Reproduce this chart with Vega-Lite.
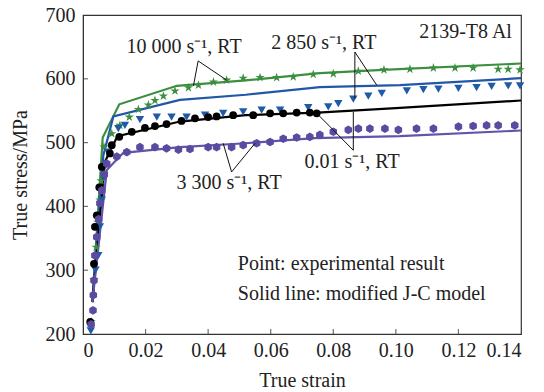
{
  "$schema": "https://vega.github.io/schema/vega-lite/v6.json",
  "width": 438,
  "height": 319,
  "autosize": {"type": "none"},
  "padding": {"left": 83, "top": 15, "right": 23, "bottom": 58},
  "config": {
    "font": "Liberation Serif",
    "view": {"stroke": "#333", "strokeWidth": 1.2},
    "axis": {
      "labelFont": "Liberation Serif", "titleFont": "Liberation Serif",
      "labelFontSize": 20, "titleFontSize": 20, "labelColor": "#222", "titleColor": "#222",
      "titleFontWeight": "normal", "grid": false, "domainColor": "#333", "ticks": false
    }
  },
  "datasets": {
    "model": [
      {"series": "10000", "strain": 0.0030, "stress": 250},
      {"series": "10000", "strain": 0.0063, "stress": 508},
      {"series": "10000", "strain": 0.0116, "stress": 560},
      {"series": "10000", "strain": 0.0300, "stress": 589},
      {"series": "10000", "strain": 0.0510, "stress": 597},
      {"series": "10000", "strain": 0.0757, "stress": 609},
      {"series": "10000", "strain": 0.0959, "stress": 614},
      {"series": "10000", "strain": 0.1400, "stress": 624},
      {"series": "2850", "strain": 0.0030, "stress": 250},
      {"series": "2850", "strain": 0.0065, "stress": 480},
      {"series": "2850", "strain": 0.0097, "stress": 541},
      {"series": "2850", "strain": 0.0310, "stress": 567},
      {"series": "2850", "strain": 0.0520, "stress": 575},
      {"series": "2850", "strain": 0.0757, "stress": 587},
      {"series": "2850", "strain": 0.1013, "stress": 590},
      {"series": "2850", "strain": 0.1400, "stress": 601},
      {"series": "0.01", "strain": 0.0030, "stress": 250},
      {"series": "0.01", "strain": 0.0070, "stress": 470},
      {"series": "0.01", "strain": 0.0110, "stress": 510},
      {"series": "0.01", "strain": 0.0310, "stress": 533},
      {"series": "0.01", "strain": 0.0520, "stress": 543},
      {"series": "0.01", "strain": 0.0750, "stress": 547},
      {"series": "0.01", "strain": 0.1000, "stress": 554},
      {"series": "0.01", "strain": 0.1400, "stress": 566},
      {"series": "3300", "strain": 0.0030, "stress": 250},
      {"series": "3300", "strain": 0.0076, "stress": 457},
      {"series": "3300", "strain": 0.0129, "stress": 484},
      {"series": "3300", "strain": 0.0310, "stress": 493},
      {"series": "3300", "strain": 0.0520, "stress": 499},
      {"series": "3300", "strain": 0.0740, "stress": 507},
      {"series": "3300", "strain": 0.1013, "stress": 510},
      {"series": "3300", "strain": 0.1400, "stress": 519}
    ],
    "exp10000": [
      {"strain": 0.0026, "stress": 219}, {"strain": 0.0035, "stress": 285}, {"strain": 0.0042, "stress": 336},
      {"strain": 0.0048, "stress": 375}, {"strain": 0.0054, "stress": 410}, {"strain": 0.0058, "stress": 440},
      {"strain": 0.0063, "stress": 462}, {"strain": 0.0067, "stress": 493}, {"strain": 0.0092, "stress": 514},
      {"strain": 0.0118, "stress": 527}, {"strain": 0.0148, "stress": 540}, {"strain": 0.0177, "stress": 552},
      {"strain": 0.0209, "stress": 559}, {"strain": 0.0230, "stress": 566}, {"strain": 0.0257, "stress": 573},
      {"strain": 0.0294, "stress": 581}, {"strain": 0.0337, "stress": 586}, {"strain": 0.0369, "stress": 590},
      {"strain": 0.0417, "stress": 595}, {"strain": 0.0459, "stress": 598}, {"strain": 0.0512, "stress": 601},
      {"strain": 0.0566, "stress": 602}, {"strain": 0.0619, "stress": 602}, {"strain": 0.0672, "stress": 603},
      {"strain": 0.0736, "stress": 607}, {"strain": 0.0800, "stress": 608}, {"strain": 0.0880, "stress": 612},
      {"strain": 0.0962, "stress": 614}, {"strain": 0.1045, "stress": 615}, {"strain": 0.1120, "stress": 617},
      {"strain": 0.1189, "stress": 617}, {"strain": 0.1247, "stress": 617}, {"strain": 0.1327, "stress": 615},
      {"strain": 0.1359, "stress": 615}, {"strain": 0.1397, "stress": 614}
    ],
    "exp2850": [
      {"strain": 0.0025, "stress": 205}, {"strain": 0.0040, "stress": 300}, {"strain": 0.0049, "stress": 323},
      {"strain": 0.0054, "stress": 368}, {"strain": 0.0060, "stress": 410}, {"strain": 0.0067, "stress": 446},
      {"strain": 0.0080, "stress": 485}, {"strain": 0.0113, "stress": 522}, {"strain": 0.0134, "stress": 527},
      {"strain": 0.0182, "stress": 536}, {"strain": 0.0236, "stress": 540}, {"strain": 0.0283, "stress": 540},
      {"strain": 0.0331, "stress": 540}, {"strain": 0.0390, "stress": 543}, {"strain": 0.0448, "stress": 546},
      {"strain": 0.0512, "stress": 548}, {"strain": 0.0571, "stress": 551}, {"strain": 0.0630, "stress": 551},
      {"strain": 0.0720, "stress": 555}, {"strain": 0.0784, "stress": 556}, {"strain": 0.0816, "stress": 561},
      {"strain": 0.0864, "stress": 568}, {"strain": 0.0912, "stress": 573}, {"strain": 0.0955, "stress": 577},
      {"strain": 0.1035, "stress": 581}, {"strain": 0.1088, "stress": 583}, {"strain": 0.1136, "stress": 584},
      {"strain": 0.1200, "stress": 585}, {"strain": 0.1258, "stress": 586}, {"strain": 0.1306, "stress": 588},
      {"strain": 0.1359, "stress": 589}, {"strain": 0.1397, "stress": 589}
    ],
    "exp001": [
      {"strain": 0.0023, "stress": 219}, {"strain": 0.0035, "stress": 310}, {"strain": 0.0038, "stress": 368},
      {"strain": 0.0044, "stress": 386}, {"strain": 0.0052, "stress": 430}, {"strain": 0.0060, "stress": 462},
      {"strain": 0.0086, "stress": 483}, {"strain": 0.0092, "stress": 496}, {"strain": 0.0116, "stress": 509},
      {"strain": 0.0156, "stress": 517}, {"strain": 0.0198, "stress": 523}, {"strain": 0.0230, "stress": 526},
      {"strain": 0.0267, "stress": 529}, {"strain": 0.0315, "stress": 534}, {"strain": 0.0358, "stress": 538},
      {"strain": 0.0400, "stress": 540}, {"strain": 0.0427, "stress": 541}, {"strain": 0.0480, "stress": 543},
      {"strain": 0.0544, "stress": 543}, {"strain": 0.0598, "stress": 546}, {"strain": 0.0640, "stress": 546},
      {"strain": 0.0683, "stress": 547}, {"strain": 0.0725, "stress": 547}, {"strain": 0.0747, "stress": 546}
    ],
    "exp3300": [
      {"strain": 0.0026, "stress": 215}, {"strain": 0.0032, "stress": 237}, {"strain": 0.0033, "stress": 261},
      {"strain": 0.0035, "stress": 284}, {"strain": 0.0038, "stress": 323}, {"strain": 0.0044, "stress": 352},
      {"strain": 0.0050, "stress": 380}, {"strain": 0.0054, "stress": 405}, {"strain": 0.0060, "stress": 425},
      {"strain": 0.0068, "stress": 450}, {"strain": 0.0076, "stress": 467}, {"strain": 0.0108, "stress": 478},
      {"strain": 0.0140, "stress": 485}, {"strain": 0.0182, "stress": 493}, {"strain": 0.0230, "stress": 493},
      {"strain": 0.0267, "stress": 491}, {"strain": 0.0305, "stress": 489}, {"strain": 0.0342, "stress": 490},
      {"strain": 0.0400, "stress": 493}, {"strain": 0.0427, "stress": 493}, {"strain": 0.0475, "stress": 493},
      {"strain": 0.0512, "stress": 496}, {"strain": 0.0555, "stress": 499}, {"strain": 0.0598, "stress": 501},
      {"strain": 0.0640, "stress": 506}, {"strain": 0.0683, "stress": 508}, {"strain": 0.0725, "stress": 509},
      {"strain": 0.0757, "stress": 512}, {"strain": 0.0800, "stress": 517}, {"strain": 0.0848, "stress": 520},
      {"strain": 0.0880, "stress": 522}, {"strain": 0.0917, "stress": 522}, {"strain": 0.0965, "stress": 522},
      {"strain": 0.1008, "stress": 520}, {"strain": 0.1066, "stress": 522}, {"strain": 0.1120, "stress": 522},
      {"strain": 0.1200, "stress": 525}, {"strain": 0.1247, "stress": 526}, {"strain": 0.1290, "stress": 527},
      {"strain": 0.1327, "stress": 527}, {"strain": 0.1380, "stress": 527}
    ],
    "leaders": [
      {"x": 0.0368, "y": 628, "x2": 0.0353, "y2": 589},
      {"x": 0.0368, "y": 628, "x2": 0.0459, "y2": 598},
      {"x": 0.0869, "y": 642, "x2": 0.0869, "y2": 569},
      {"x": 0.0869, "y": 642, "x2": 0.0939, "y2": 590},
      {"x": 0.0864, "y": 488, "x2": 0.0864, "y2": 548},
      {"x": 0.0864, "y": 488, "x2": 0.0747, "y2": 546},
      {"x": 0.0475, "y": 454, "x2": 0.0448, "y2": 499},
      {"x": 0.0475, "y": 454, "x2": 0.0550, "y2": 499}
    ],
    "centerLabels": [
      {"x": 0.0323, "y": 650, "text": "10 000 s⁻¹, RT"},
      {"x": 0.0770, "y": 656, "text": "2 850 s⁻¹, RT"},
      {"x": 0.0860, "y": 469, "text": "0.01 s⁻¹, RT"},
      {"x": 0.0467, "y": 436, "text": "3 300 s⁻¹, RT"}
    ],
    "leftLabels": [
      {"x": 0.0495, "y": 309, "text": "Point: experimental result"},
      {"x": 0.0495, "y": 262, "text": "Solid line: modified J-C model"}
    ],
    "rightLabels": [
      {"x": 0.1371, "y": 673, "text": "2139-T8 Al"}
    ],
    "xticks": [
      {"v": 0.02}, {"v": 0.04}, {"v": 0.06}, {"v": 0.08}, {"v": 0.10}, {"v": 0.12}
    ],
    "yticks": [
      {"v": 300}, {"v": 400}, {"v": 500}, {"v": 600}
    ]
  },
  "layer": [
    {
      "data": {"name": "model"},
      "mark": {"type": "line", "strokeWidth": 2.2},
      "encoding": {
        "x": {"field": "strain", "type": "quantitative",
          "scale": {"domain": [0, 0.14], "nice": false, "zero": false},
          "axis": {"title": "True strain", "values": [0, 0.02, 0.04, 0.06, 0.08, 0.1, 0.12, 0.14],
            "labelExpr": "datum.value == 0 ? '0' : format(datum.value, '.2f')",
            "labelPadding": 6, "titlePadding": 10}},
        "y": {"field": "stress", "type": "quantitative",
          "scale": {"domain": [200, 700], "nice": false, "zero": false},
          "axis": {"title": "True stress/MPa", "values": [200, 300, 400, 500, 600, 700],
            "labelPadding": 8, "titlePadding": 15}},
        "color": {"field": "series", "type": "nominal", "legend": null,
          "scale": {"domain": ["10000", "2850", "0.01", "3300"], "range": ["#3b8f3f", "#2257a6", "#000000", "#6453a8"]}}
      }
    },
    {
      "data": {"name": "exp10000"},
      "mark": {"type": "point", "filled": true, "opacity": 1, "shape": "M0,-1L0.2245,-0.309L0.951,-0.309L0.3633,0.118L0.5878,0.809L0,0.382L-0.5878,0.809L-0.3633,0.118L-0.951,-0.309L-0.2245,-0.309Z", "size": 95, "color": "#3b8f3f"},
      "encoding": {
        "x": {"field": "strain", "type": "quantitative"},
        "y": {"field": "stress", "type": "quantitative"}
      }
    },
    {
      "data": {"name": "exp2850"},
      "mark": {"type": "point", "filled": true, "opacity": 1, "shape": "triangle-down", "size": 70, "color": "#1f5aa8"},
      "encoding": {
        "x": {"field": "strain", "type": "quantitative"},
        "y": {"field": "stress", "type": "quantitative"}
      }
    },
    {
      "data": {"name": "exp001"},
      "mark": {"type": "point", "filled": true, "opacity": 1, "shape": "circle", "size": 60, "color": "#000000"},
      "encoding": {
        "x": {"field": "strain", "type": "quantitative"},
        "y": {"field": "stress", "type": "quantitative"}
      }
    },
    {
      "data": {"name": "exp3300"},
      "mark": {"type": "point", "filled": true, "opacity": 1, "shape": "M0,-1L0.866,-0.5L0.866,0.5L0,1L-0.866,0.5L-0.866,-0.5Z", "size": 75, "color": "#5a4aa0"},
      "encoding": {
        "x": {"field": "strain", "type": "quantitative"},
        "y": {"field": "stress", "type": "quantitative"}
      }
    },
    {
      "data": {"name": "leaders"},
      "mark": {"type": "rule", "color": "#111", "strokeWidth": 1},
      "encoding": {
        "x": {"field": "x", "type": "quantitative"},
        "y": {"field": "y", "type": "quantitative"},
        "x2": {"field": "x2"},
        "y2": {"field": "y2"}
      }
    },
    {
      "data": {"name": "xticks"},
      "mark": {"type": "tick", "orient": "vertical", "color": "#333", "size": 10, "thickness": 1.2, "clip": true},
      "encoding": {
        "x": {"field": "v", "type": "quantitative"},
        "y": {"datum": 200, "type": "quantitative"}
      }
    },
    {
      "data": {"name": "yticks"},
      "mark": {"type": "tick", "orient": "horizontal", "color": "#333", "size": 10, "thickness": 1.2, "clip": true},
      "encoding": {
        "y": {"field": "v", "type": "quantitative"},
        "x": {"datum": 0, "type": "quantitative"}
      }
    },
    {
      "data": {"name": "centerLabels"},
      "mark": {"type": "text", "font": "Liberation Serif", "fontSize": 20, "color": "#222", "baseline": "middle", "align": "center"},
      "encoding": {
        "x": {"field": "x", "type": "quantitative"},
        "y": {"field": "y", "type": "quantitative"},
        "text": {"field": "text", "type": "nominal"}
      }
    },
    {
      "data": {"name": "leftLabels"},
      "mark": {"type": "text", "font": "Liberation Serif", "fontSize": 20, "color": "#222", "baseline": "middle", "align": "left"},
      "encoding": {
        "x": {"field": "x", "type": "quantitative"},
        "y": {"field": "y", "type": "quantitative"},
        "text": {"field": "text", "type": "nominal"}
      }
    },
    {
      "data": {"name": "rightLabels"},
      "mark": {"type": "text", "font": "Liberation Serif", "fontSize": 20, "color": "#222", "baseline": "middle", "align": "right"},
      "encoding": {
        "x": {"field": "x", "type": "quantitative"},
        "y": {"field": "y", "type": "quantitative"},
        "text": {"field": "text", "type": "nominal"}
      }
    }
  ]
}
